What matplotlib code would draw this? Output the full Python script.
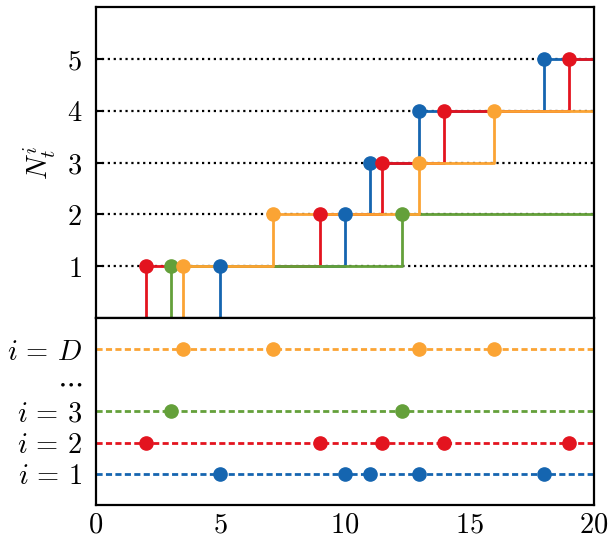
import numpy as np
import matplotlib
matplotlib.use('Agg')
import matplotlib.pyplot as plt

plt.rcParams['mathtext.fontset'] = 'cm'
plt.rcParams['font.family'] = 'serif'

# event times of each process
t_blue = [5, 10, 11, 13, 18]
t_red = [2, 9, 11.5, 14, 19]
t_green = [3, 12.3]
t_orange = [3.5, 7.1, 13, 16]

colors = ['#1565b0', '#e3141f', '#64a03a', '#fba434']
events = [t_blue, t_red, t_green, t_orange]
rows = [1, 2, 3, 5]  # row of each process in the lower panel
row_labels = [r'$i\,=\,1$', r'$i\,=\,2$', r'$i\,=\,3$', r'$\cdots$', r'$i\,=\,D$']
T = 20
fs = 20.5

fig = plt.figure(figsize=(6.09, 5.44), dpi=100)
ax1 = fig.add_axes([0.1576, 0.4154, 0.817, 0.5717])
ax2 = fig.add_axes([0.1576, 0.0717, 0.817, 0.3438])

# horizontal guides
for k in range(1, 6):
    ax1.plot([0, T], [k, k], ':', color='black', lw=1.6, zorder=1)

# counting processes
for t, c in zip(events, colors):
    n = np.arange(1, len(t) + 1)
    xs = np.concatenate([[0], t, [T]])
    ys = np.concatenate([[0], n, [n[-1]]])
    ax1.step(xs, ys, where='post', color=c, lw=2.0, zorder=2)
for t, c in zip(events, colors):
    n = np.arange(1, len(t) + 1)
    ax1.plot(t, n, 'o', color=c, ms=9.5, zorder=3)

ax1.set_xlim(0, T)
ax1.set_ylim(0, 6)
ax1.set_yticks(range(1, 6))
ax1.set_yticklabels([f'${k}$' for k in range(1, 6)], fontsize=fs)
ax1.set_xticks([])
ax1.tick_params(axis='y', direction='in', length=5, width=1.5, pad=10)
ax1.set_ylabel('$N_t^i$', fontsize=fs, labelpad=6)

# event marks
for t, c, r in zip(events, colors, rows):
    ax2.plot([0, T], [r, r], color=c, lw=2.0, dashes=(2.2, 1.2), zorder=1)
    ax2.plot(t, [r] * len(t), 'o', color=c, ms=9.5, zorder=2)

ax2.set_xlim(0, T)
ax2.set_ylim(0, 6)
ax2.set_yticks(range(1, 6))
ax2.set_yticklabels(row_labels, fontsize=fs)
ax2.set_xticks(range(0, T + 1, 5))
ax2.set_xticklabels([f'${v}$' for v in range(0, T + 1, 5)], fontsize=fs)
ax2.tick_params(axis='y', length=0, pad=10)
ax2.tick_params(axis='x', length=0, pad=5)

for ax in (ax1, ax2):
    for s in ax.spines.values():
        s.set_linewidth(1.6)

fig.savefig('out.png', dpi=100)
